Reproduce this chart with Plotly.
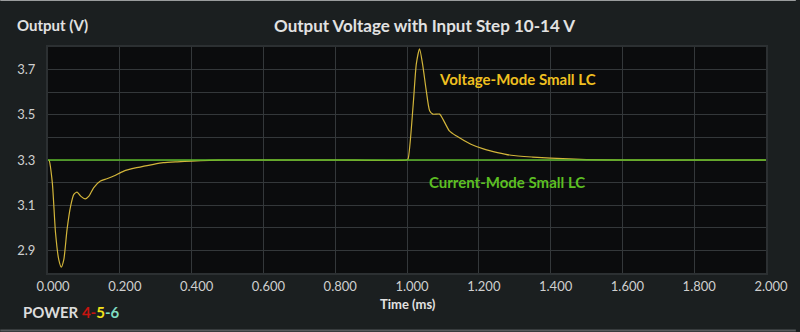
import plotly.graph_objects as go

# Time (ms) and output voltage (V)
time_vm = [0.000, 0.003, 0.012, 0.021, 0.030, 0.037, 0.044, 0.053, 0.063, 0.072, 0.081,
           0.091, 0.104, 0.114, 0.127, 0.146, 0.164, 0.183, 0.211, 0.247, 0.294, 0.321,
           0.360, 0.400, 0.450, 0.500, 0.600, 0.800, 0.999,
           1.003, 1.017, 1.026, 1.035, 1.044, 1.053, 1.063, 1.072, 1.091, 1.100, 1.118,
           1.137, 1.178, 1.215, 1.252, 1.290, 1.350, 1.400, 1.500, 1.600, 1.800, 2.000]
volt_vm = [3.300, 3.298, 3.200, 2.977, 2.859, 2.826, 2.859, 2.992, 3.096, 3.148, 3.158,
           3.140, 3.128, 3.140, 3.177, 3.207, 3.217, 3.229, 3.251, 3.266, 3.281, 3.288,
           3.292, 3.295, 3.298, 3.300, 3.300, 3.300, 3.300,
           3.305, 3.540, 3.725, 3.792, 3.718, 3.614, 3.518, 3.503, 3.503, 3.481, 3.429,
           3.407, 3.370, 3.348, 3.333, 3.321, 3.313, 3.308, 3.302, 3.300, 3.300, 3.300]

time_cm = [0.0, 0.5, 1.0, 1.5, 2.0]
volt_cm = [3.3, 3.3, 3.3, 3.3, 3.3]

x_ticks = [0.0, 0.2, 0.4, 0.6, 0.8, 1.0, 1.2, 1.4, 1.6, 1.8, 2.0]
y_ticks = [2.9, 3.1, 3.3, 3.5, 3.7]

BG = "#1b1f20"
PLOT_BG = "#0b0c0d"
GRID = "#34383a"
FONT = "Lato"

fig = go.Figure()
fig.add_trace(go.Scatter(x=time_vm, y=volt_vm, mode="lines",
                         line=dict(color="#d2b53a", width=1.2, shape="spline", smoothing=0.6),
                         name="Voltage-Mode Small LC", showlegend=False))
fig.add_trace(go.Scatter(x=time_cm, y=volt_cm, mode="lines",
                         line=dict(color="#5cb82a", width=1.6),
                         name="Current-Mode Small LC", showlegend=False))

W, H = 800, 332
ml, mr, mt, mb = 48, 30, 47, 59
pw, ph = W - ml - mr, H - mt - mb

def px_x(px):
    return (px - ml) / pw

def px_y(py):
    return (H - mb - py) / ph

annotations = [
    dict(text="<b>Output Voltage with Input Step 10-14 V</b>", xref="paper", yref="paper",
         x=px_x(427), y=px_y(25), xanchor="center", yanchor="middle", showarrow=False,
         font=dict(family=FONT, size=17, color="#e2e2e2")),
    dict(text="<b>Output (V)</b>", xref="paper", yref="paper",
         x=px_x(15), y=px_y(25), xanchor="left", yanchor="middle", showarrow=False,
         font=dict(family=FONT, size=15, color="#e2e2e2")),
    dict(text="<b>Time (ms)</b>", xref="paper", yref="paper",
         x=px_x(410), y=px_y(304), xanchor="center", yanchor="middle", showarrow=False,
         font=dict(family=FONT, size=13, color="#e2e2e2")),
    dict(text="<b>POWER <span style='color:#c8140f'>4-</span><span style='color:#f2e21a'>5</span>"
              "<span style='color:#7fdcc0'>-6</span></b>",
         xref="paper", yref="paper", x=px_x(21), y=px_y(312), xanchor="left", yanchor="middle",
         showarrow=False, font=dict(family=FONT, size=15, color="#dcdcdc")),
    dict(text="<b>Voltage-Mode Small LC</b>", xref="x", yref="y", x=1.083, y=3.659,
         xanchor="left", yanchor="middle", showarrow=False,
         font=dict(family=FONT, size=15, color="#f0c020")),
    dict(text="<b>Current-Mode Small LC</b>", xref="x", yref="y", x=1.055, y=3.201,
         xanchor="left", yanchor="middle", showarrow=False,
         font=dict(family=FONT, size=15, color="#5cbf22")),
]

shapes = [
    dict(type="line", xref="paper", yref="paper", x0=px_x(0), x1=px_x(W), y0=px_y(0.5), y1=px_y(0.5),
         line=dict(color="#9a9c9d", width=1)),
    dict(type="line", xref="paper", yref="paper", x0=px_x(0), x1=px_x(W), y0=px_y(330.5), y1=px_y(330.5),
         line=dict(color="#55595b", width=2)),
]

fig.update_layout(
    width=W, height=H,
    margin=dict(l=ml, r=mr, t=mt, b=mb, pad=0),
    paper_bgcolor=BG, plot_bgcolor=PLOT_BG,
    annotations=annotations, shapes=shapes,
    showlegend=False,
    xaxis=dict(range=[0, 2.0], tickvals=x_ticks, tickformat=".3f",
               showgrid=True, gridcolor=GRID, gridwidth=1, zeroline=False,
               showline=True, linecolor="#2c3032", linewidth=2, mirror=True,
               ticks="", ticklabelshift=5, ticklabelstandoff=0,
               tickfont=dict(family=FONT, size=13, color="#cfcfcf")),
    yaxis=dict(range=[2.8, 3.8], tickvals=y_ticks, tickformat=".1f",
               showgrid=True, gridcolor=GRID, gridwidth=1, zeroline=False,
               showline=True, linecolor="#2c3032", linewidth=2, mirror=True,
               ticks="", ticklabelstandoff=8,
               minor=dict(tickvals=[2.8, 3.0, 3.2, 3.4, 3.6], showgrid=True, gridcolor=GRID, gridwidth=1),
               tickfont=dict(family=FONT, size=13, color="#cfcfcf")),
)

fig.write_html("out.html")
